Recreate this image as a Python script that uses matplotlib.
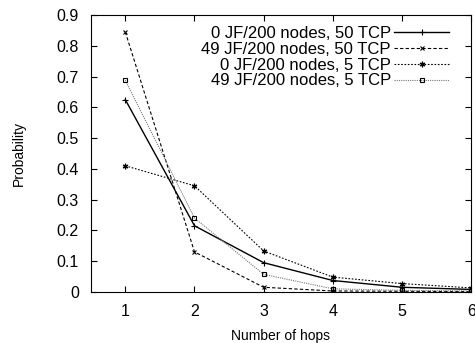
import matplotlib.pyplot as plt

plt.rcParams['font.family'] = ['Liberation Sans', 'DejaVu Sans']

hops = [1, 2, 3, 4, 5, 6]
jf0_tcp50 = [0.625, 0.215, 0.095, 0.037, 0.015, 0.008]
jf49_tcp50 = [0.845, 0.13, 0.015, 0.003, 0.002, 0.001]
jf0_tcp5 = [0.41, 0.345, 0.133, 0.048, 0.027, 0.013]
jf49_tcp5 = [0.688, 0.24, 0.057, 0.01, 0.005, 0.003]
labels = ['0 JF/200 nodes, 50 TCP', '49 JF/200 nodes, 50 TCP',
          '0 JF/200 nodes, 5 TCP', '49 JF/200 nodes, 5 TCP']

fig = plt.figure(figsize=(4.75, 3.43), dpi=100)
ax = fig.add_axes([0.191, 0.149, 0.801, 0.807])

ax.plot(hops, jf0_tcp50, color='black', lw=1.0, ls='-', marker='+', ms=4, mew=0.8, label=labels[0])
ax.plot(hops, jf49_tcp50, color='black', lw=0.8, ls=(0, (3, 2)), marker='x', ms=3, mew=0.8, label=labels[1])
ax.plot(hops, jf0_tcp5, color='black', lw=0.8, ls=(0, (1.5, 1.5)), marker=(6, 2, 0), ms=4, mew=0.9, label=labels[2])
ax.plot(hops, jf49_tcp5, color='#777777', lw=0.8, ls=(0, (1, 1)), marker='s', ms=3.2, mew=0.8,
        mfc='none', mec='black', label=labels[3])

ax.set_xlim(0.5, 6)
ax.set_ylim(0, 0.9)
ax.set_xticks(hops)
ax.set_yticks([0, 0.1, 0.2, 0.3, 0.4, 0.5, 0.6, 0.7, 0.8, 0.9])
ax.set_yticklabels(['0', '0.1', '0.2', '0.3', '0.4', '0.5', '0.6', '0.7', '0.8', '0.9'])
ax.tick_params(direction='in', top=True, right=True, labelsize=11.5, length=4)
ax.tick_params(axis='x', pad=9)
ax.tick_params(axis='y', pad=8.5)
ax.set_xlabel('Number of hops', fontsize=10, labelpad=7)
ax.set_ylabel('Probability', fontsize=10, labelpad=22)

ax.legend(loc='upper right', bbox_to_anchor=(0.96, 0.985), frameon=False, markerfirst=False,
          fontsize=12, handlelength=3.3, labelspacing=0.05, borderaxespad=0.0, handletextpad=0.2)

fig.savefig('out.png', dpi=100)
